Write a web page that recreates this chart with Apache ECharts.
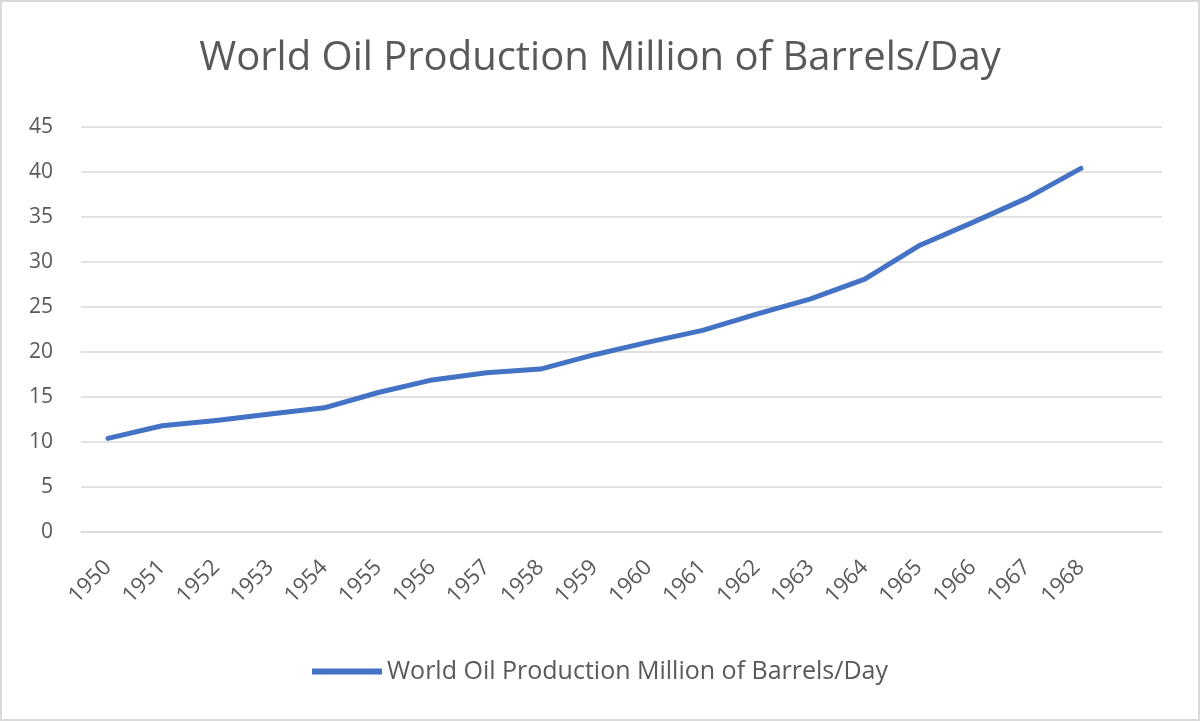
<!DOCTYPE html>
<html>
<head>
<meta charset="utf-8">
<title>World Oil Production</title>
<script src="https://cdn.jsdelivr.net/npm/echarts@6/dist/echarts.min.js"></script>
<style>
    html, body { margin: 0; padding: 0; background: #ffffff; }
    #canva {
        width: 1200px;
        height: 721px;
        box-sizing: border-box;
        border: 2px solid #d9d9d9;
    }
</style>
</head>
<body>
<div id="canva"></div>
<script>
// ========== Data ==========
// Years on the category axis; Excel left one empty slot at the end
const years = ['1950', '1951', '1952', '1953', '1954', '1955', '1956', '1957', '1958', '1959',
               '1960', '1961', '1962', '1963', '1964', '1965', '1966', '1967', '1968', ''];

// Million barrels per day
const production = [10.4, 11.8, 12.4, 13.1, 13.8, 15.5, 16.9, 17.7, 18.1, 19.7,
                    21.1, 22.4, 24.2, 25.9, 28.1, 31.8, 34.4, 37.1, 40.4, null];

const seriesName = 'World Oil Production Million of Barrels/Day';
const textColor = '#595959';
const fontName = '"Open Sans", "Noto Sans", sans-serif';

// ========== Chart Rendering ==========
var chartDom = document.getElementById('canva');
var myChart = echarts.init(chartDom);
var option = {
    animation: false,
    title: {
        text: seriesName,
        left: 'center',
        top: 32,
        textStyle: {
            color: textColor,
            fontSize: 40,
            fontWeight: 'normal',
            fontFamily: fontName
        }
    },
    legend: {
        data: [seriesName],
        bottom: 30,
        left: 'center',
        itemWidth: 70,
        itemHeight: 6,
        itemGap: 4,
        icon: 'rect',
        textStyle: {
            color: textColor,
            fontSize: 25,
            fontFamily: fontName
        }
    },
    grid: {
        left: 79,
        right: 36,
        top: 125,
        bottom: 187
    },
    xAxis: {
        type: 'category',
        data: years,
        boundaryGap: true,
        axisLine: { lineStyle: { color: '#d9d9d9', width: 1.5 } },
        axisTick: { show: false },
        axisLabel: {
            rotate: 45,
            interval: 0,
            margin: 32,
            color: textColor,
            fontSize: 22,
            fontFamily: fontName
        }
    },
    yAxis: {
        type: 'value',
        min: 0,
        max: 45,
        interval: 5,
        axisLine: { show: false },
        axisTick: { show: false },
        splitLine: { lineStyle: { color: '#d9d9d9', width: 1.5 } },
        axisLabel: {
            margin: 28,
            color: textColor,
            fontSize: 21,
            fontFamily: fontName
        }
    },
    series: [
        {
            name: seriesName,
            type: 'line',
            data: production,
            showSymbol: false,
            symbol: 'none',
            lineStyle: {
                color: '#4472c4',
                width: 5,
                cap: 'round',
                join: 'round'
            },
            itemStyle: { color: '#4472c4' }
        }
    ]
};
option && myChart.setOption(option);
</script>
</body>
</html>
